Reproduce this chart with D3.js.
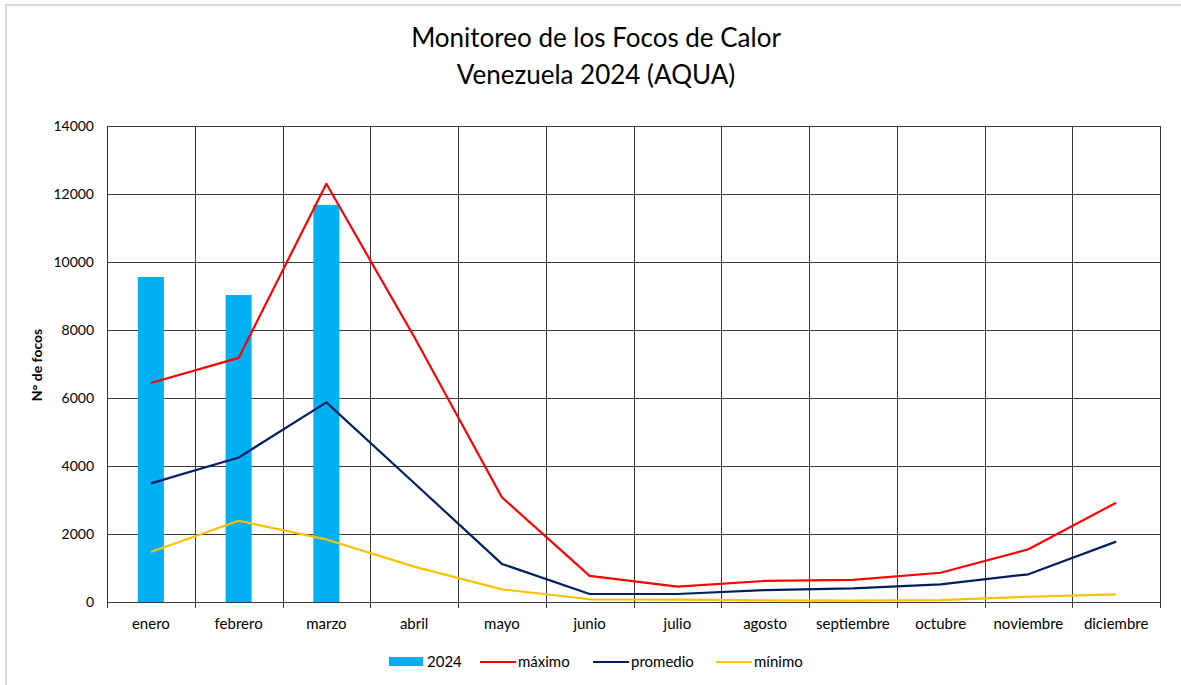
<!DOCTYPE html>
<html>
<head>
<meta charset="utf-8">
<script src="https://cdn.jsdelivr.net/npm/d3@7"></script>
<style>
  body { margin: 0; background: #fff; }
  text { font-family: Lato, "Open Sans", sans-serif; fill: #000; }
</style>
</head>
<body>
<div id="chart"></div>
<script>
// datos
var meses = ["enero","febrero","marzo","abril","mayo","junio","julio","agosto","septiembre","octubre","noviembre","diciembre"];
var focos2024 = [9560, 9030, 11680];
var maximo = [6440, 7180, 12300, 7800, 3080, 770, 450, 620, 650, 860, 1550, 2920];
var promedio = [3490, 4250, 5870, 3500, 1120, 235, 235, 350, 400, 520, 815, 1775];
var minimo = [1470, 2390, 1840, 1040, 373, 80, 70, 45, 40, 55, 155, 225];
var yTicks = [0, 2000, 4000, 6000, 8000, 10000, 12000, 14000];

var W = 1181, H = 685;
var margin = {top: 126, right: 21, bottom: 83, left: 107};
var width = W - margin.left - margin.right;
var height = H - margin.top - margin.bottom;

var svg = d3.select("#chart").append("svg")
  .attr("width", W).attr("height", H);

// marco exterior
svg.append("path")
  .attr("d", "M6,686 V5 H1181")
  .attr("fill", "none").attr("stroke", "#d9d9d9").attr("stroke-width", 2);

svg.append("text").attr("x", 596).attr("y", 47).attr("text-anchor", "middle")
  .style("font-size", "26px").text("Monitoreo de los Focos de Calor");
svg.append("text").attr("x", 596).attr("y", 84).attr("text-anchor", "middle")
  .style("font-size", "26px").text("Venezuela 2024 (AQUA)");

var g = svg.append("g").attr("transform", "translate(" + margin.left + "," + margin.top + ")");

var x = d3.scaleBand().domain(meses).range([0, width]);
var y = d3.scaleLinear().domain([0, 14000]).range([height, 0]);

// rejilla horizontal
g.selectAll(".hgrid").data(yTicks).enter().append("line")
  .attr("x1", 0).attr("x2", width)
  .attr("y1", function(d) { return Math.round(y(d)) + 0.5; })
  .attr("y2", function(d) { return Math.round(y(d)) + 0.5; })
  .attr("stroke", "#3a3a3a").attr("stroke-width", 1);

// rejilla vertical
var bordes = d3.range(13).map(function(i) { return i * x.bandwidth(); });
g.selectAll(".vgrid").data(bordes).enter().append("line")
  .attr("x1", function(d) { return Math.round(d) + 0.5; })
  .attr("x2", function(d) { return Math.round(d) + 0.5; })
  .attr("y1", 0).attr("y2", height + 6)
  .attr("stroke", "#3a3a3a").attr("stroke-width", 1);

// eje y
var yAxis = g.append("g").call(d3.axisLeft(y).tickValues(yTicks).tickSize(0).tickPadding(13).tickFormat(d3.format("d")));
yAxis.select(".domain").remove();
yAxis.selectAll("text").style("font-size", "14px").style("font-family", "Lato, sans-serif");

// eje x
var xAxis = g.append("g").attr("transform", "translate(0," + height + ")")
  .call(d3.axisBottom(x).tickSize(0).tickPadding(16));
xAxis.select(".domain").remove();
xAxis.selectAll("text").style("font-size", "15px").style("font-family", "Lato, sans-serif");

svg.append("text")
  .attr("transform", "translate(42,365) rotate(-90)")
  .attr("text-anchor", "middle")
  .style("font-size", "14px").style("font-weight", "bold")
  .text("N° de focos");

// barras 2024
var barW = 26;
g.selectAll(".bar").data(focos2024).enter().append("rect")
  .attr("x", function(d, i) { return x(meses[i]) + x.bandwidth() / 2 - barW / 2; })
  .attr("y", function(d) { return y(d); })
  .attr("width", barW)
  .attr("height", function(d) { return height - y(d); })
  .attr("fill", "#00b0f0");

var linea = d3.line()
  .x(function(d, i) { return x(meses[i]) + x.bandwidth() / 2; })
  .y(function(d) { return y(d); });

var series = [
  {nombre: "máximo", valores: maximo, color: "#ff0000"},
  {nombre: "promedio", valores: promedio, color: "#002060"},
  {nombre: "mínimo", valores: minimo, color: "#ffc000"}
];

series.forEach(function(s) {
  g.append("path").datum(s.valores)
    .attr("d", linea)
    .attr("fill", "none")
    .attr("stroke", s.color)
    .attr("stroke-width", 2.2)
    .attr("stroke-linejoin", "round");
});

// leyenda
var ley = svg.append("g").attr("transform", "translate(0,662)");
ley.append("rect").attr("x", 389).attr("y", -5).attr("width", 34).attr("height", 9).attr("fill", "#00b0f0");
ley.append("text").attr("x", 427).attr("y", 5).style("font-size", "15px").text("2024");
var leyX = [480, 593, 716];
series.forEach(function(s, i) {
  ley.append("line").attr("x1", leyX[i]).attr("x2", leyX[i] + 36).attr("y1", 0).attr("y2", 0)
    .attr("stroke", s.color).attr("stroke-width", 2.2);
  ley.append("text").attr("x", leyX[i] + 38).attr("y", 5).style("font-size", "15px").text(s.nombre);
});
</script>
</body>
</html>
